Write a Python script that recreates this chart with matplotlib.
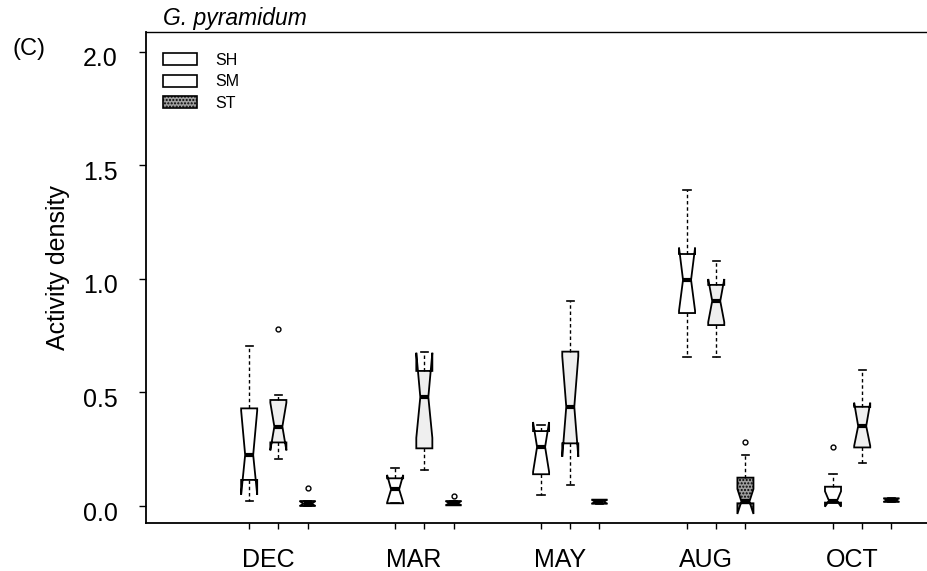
import numpy as np
import matplotlib
matplotlib.use('Agg')
import matplotlib.pyplot as plt
from matplotlib.patches import Patch
from matplotlib.transforms import ScaledTranslation

plt.rcParams['font.family'] = ['Liberation Sans', 'DejaVu Sans']

# data (activity density), order SH, SM, ST per month
months = ['DEC', 'MAR', 'MAY', 'AUG', 'OCT']
habitats = ['SH', 'SM', 'ST']

whislo = [0.020, 0.207, 0.000,  0.012, 0.158, 0.003,  0.048, 0.092, 0.010,
          0.658, 0.658, 0.012,  0.015, 0.190, 0.018]
q1 =     [0.115, 0.280, 0.000,  0.012, 0.254, 0.003,  0.140, 0.276, 0.010,
          0.850, 0.797, 0.012,  0.015, 0.258, 0.018]
cilo =   [0.050, 0.245, 0.000,  0.015, 0.300, 0.003,  0.150, 0.217, 0.010,
          0.860, 0.810, -0.035, -0.003, 0.265, 0.018]
med =    [0.225, 0.350, 0.010,  0.073, 0.480, 0.012,  0.260, 0.437, 0.019,
          0.996, 0.903, 0.020,  0.023, 0.352, 0.026]
cihi =   [0.420, 0.455, 0.022,  0.137, 0.675, 0.022,  0.370, 0.660, 0.028,
          1.138, 1.000, 0.075,  0.065, 0.455, 0.034]
q3 =     [0.430, 0.467, 0.022,  0.122, 0.595, 0.022,  0.330, 0.680, 0.028,
          1.110, 0.974, 0.125,  0.085, 0.437, 0.034]
whishi = [0.705, 0.490, 0.022,  0.166, 0.680, 0.022,  0.357, 0.905, 0.028,
          1.390, 1.080, 0.225,  0.141, 0.600, 0.034]
fliers = [[], [0.78], [0.08],  [], [], [0.044],  [], [], [],
          [], [], [0.283],  [0.26], [], []]

fills = {'SH': 'white', 'SM': '#efefef', 'ST': '#9e9e9e'}

stats = []
for i in range(len(med)):
    stats.append(dict(whislo=whislo[i], q1=q1[i], cilo=cilo[i], med=med[i],
                      cihi=cihi[i], q3=q3[i], whishi=whishi[i],
                      fliers=fliers[i]))

pos = np.array([g * 5 + k for g in range(len(months)) for k in range(len(habitats))])
label_pos = np.arange(len(months)) * 5 + 0.65

fig = plt.figure(figsize=(9.27, 5.71), dpi=100)
ax = fig.add_axes([0.157, 0.084, 0.843, 0.860])

bp = ax.bxp(stats, positions=pos, widths=0.55, shownotches=True,
            patch_artist=True, capwidths=0.25, manage_ticks=False,
            boxprops=dict(edgecolor='black', linewidth=1.3),
            whiskerprops=dict(color='black', linewidth=1.0, linestyle=(0, (2.5, 2))),
            capprops=dict(color='black', linewidth=1.2),
            medianprops=dict(color='black', linewidth=3),
            flierprops=dict(marker='o', markersize=3.5, markerfacecolor='white',
                            markeredgecolor='black', markeredgewidth=1))

for i, box in enumerate(bp['boxes']):
    h = habitats[i % 3]
    box.set_facecolor(fills[h])
    if h == 'ST':
        box.set_hatch('.....')

ax.set_xlim(-3.55, 23.22)
ax.set_ylim(-0.075, 2.088)

ax.spines['right'].set_visible(False)
for s in ['left', 'bottom']:
    ax.spines[s].set_linewidth(1.3)
ax.spines['top'].set_linewidth(1.0)

ax.set_xticks(pos)
ax.set_xticklabels([])
ax.set_xticks(label_pos, months, minor=True)
ax.tick_params(axis='x', which='major', direction='out', length=4, width=1)
ax.tick_params(axis='x', which='minor', length=0, pad=18, labelsize=18)

ax.set_yticks([0, 0.5, 1.0, 1.5, 2.0])
ax.set_yticklabels(['0.0', '0.5', '1.0', '1.5', '2.0'])
ax.tick_params(axis='y', direction='out', length=5, width=1, pad=15, labelsize=18)
shift = ScaledTranslation(0, -5 / 100, fig.dpi_scale_trans)
for lab in ax.get_yticklabels():
    lab.set_transform(lab.get_transform() + shift)

ax.set_ylabel('Activity density', fontsize=18)
ax.yaxis.set_label_coords(-0.097, 0.52)

ax.text(0.022, 1.014, 'G. pyramidum', transform=ax.transAxes, fontsize=16.5,
        style='italic', ha='left', va='baseline')
fig.text(12 / 927, 1 - 49 / 571, '(C)', fontsize=17, ha='left', va='center')

handles = [Patch(facecolor='white', edgecolor='black', linewidth=1.2),
           Patch(facecolor='white', edgecolor='black', linewidth=1.2),
           Patch(facecolor='#9e9e9e', edgecolor='black', linewidth=1.2, hatch='.....')]
ax.legend(handles, habitats, loc='upper left', bbox_to_anchor=(0.0224, 0.958),
          frameon=False, fontsize=11.5, handlelength=2.1, handleheight=0.78,
          handletextpad=1.2, labelspacing=0.42, borderpad=0, borderaxespad=0)

fig.savefig('out.png', dpi=100)
